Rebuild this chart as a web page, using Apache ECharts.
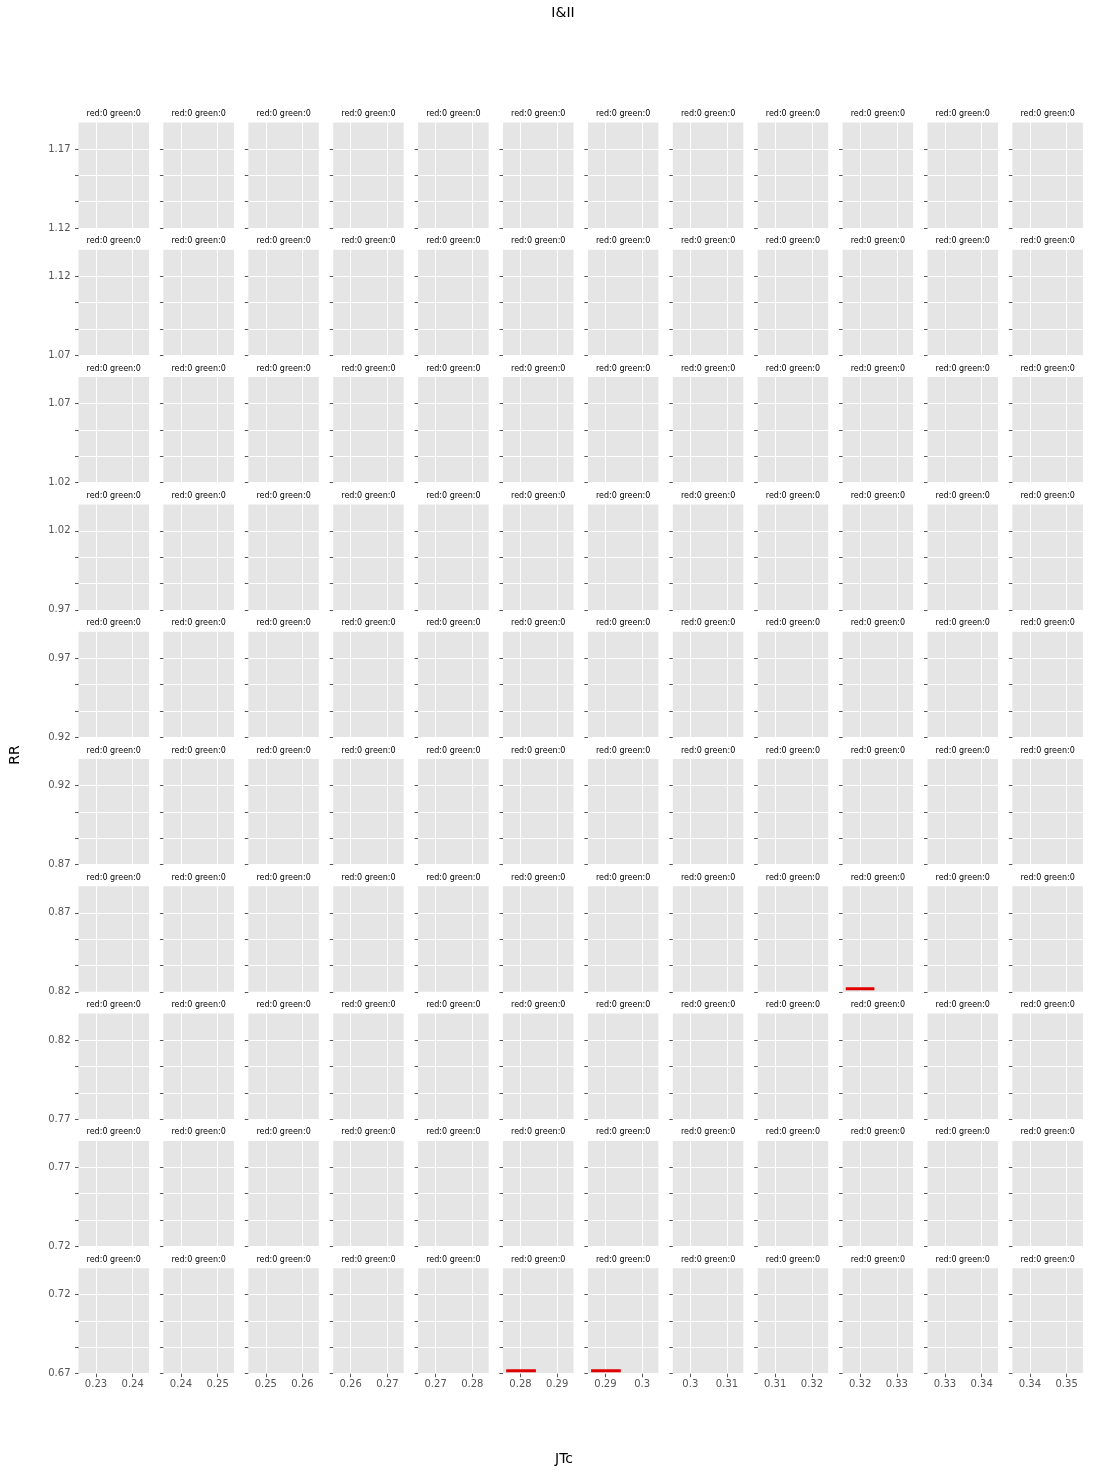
<!DOCTYPE html>
<html>
<head>
<meta charset="utf-8">
<script src="https://cdn.jsdelivr.net/npm/echarts@6/dist/echarts.min.js"></script>
<style>
  html, body { margin: 0; padding: 0; background: #fff; }
  #chart { width: 1093px; height: 1474px; }
</style>
</head>
<body>
<div id="chart"></div>
<script>
// x tick starts per column, y bottom per row
var colStarts = [0.23, 0.24, 0.25, 0.26, 0.27, 0.28, 0.29, 0.30, 0.31, 0.32, 0.33, 0.34];
var rowBottoms = [1.12, 1.07, 1.02, 0.97, 0.92, 0.87, 0.82, 0.77, 0.72, 0.67];

var redCounts = [
  [0, 0, 0, 0, 0, 0, 0, 0, 0, 0, 0, 0],
  [0, 0, 0, 0, 0, 0, 0, 0, 0, 0, 0, 0],
  [0, 0, 0, 0, 0, 0, 0, 0, 0, 0, 0, 0],
  [0, 0, 0, 0, 0, 0, 0, 0, 0, 0, 0, 0],
  [0, 0, 0, 0, 0, 0, 0, 0, 0, 0, 0, 0],
  [0, 0, 0, 0, 0, 0, 0, 0, 0, 0, 0, 0],
  [0, 0, 0, 0, 0, 0, 0, 0, 0, 0, 0, 0],
  [0, 0, 0, 0, 0, 0, 0, 0, 0, 0, 0, 0],
  [0, 0, 0, 0, 0, 0, 0, 0, 0, 0, 0, 0],
  [0, 0, 0, 0, 0, 0, 0, 0, 0, 0, 0, 0]
];
var greenCounts = [
  [0, 0, 0, 0, 0, 0, 0, 0, 0, 0, 0, 0],
  [0, 0, 0, 0, 0, 0, 0, 0, 0, 0, 0, 0],
  [0, 0, 0, 0, 0, 0, 0, 0, 0, 0, 0, 0],
  [0, 0, 0, 0, 0, 0, 0, 0, 0, 0, 0, 0],
  [0, 0, 0, 0, 0, 0, 0, 0, 0, 0, 0, 0],
  [0, 0, 0, 0, 0, 0, 0, 0, 0, 0, 0, 0],
  [0, 0, 0, 0, 0, 0, 0, 0, 0, 0, 0, 0],
  [0, 0, 0, 0, 0, 0, 0, 0, 0, 0, 0, 0],
  [0, 0, 0, 0, 0, 0, 0, 0, 0, 0, 0, 0],
  [0, 0, 0, 0, 0, 0, 0, 0, 0, 0, 0, 0]
];

// red segments: row, col, x start, x end, y
var redSegments = [
  [6, 9, 0.3161, 0.3239, 0.8219],
  [9, 5, 0.2761, 0.2842, 0.6719],
  [9, 6, 0.2861, 0.2942, 0.6719]
];

var nRows = rowBottoms.length, nCols = colStarts.length;
var yStep = 0.05, xStep = 0.01;
var left0 = 78.5, colGap = 84.9, pw = 70.5;
var top0 = 122.5, rowGap = 127.3, ph = 105.5;
var font = 'DejaVu Sans';

function fmt(v) { return String(parseFloat(v.toFixed(2))); }

var grids = [], xAxes = [], yAxes = [], titles = [], series = [];

for (var r = 0; r < nRows; r++) {
  for (var c = 0; c < nCols; c++) {
    var idx = r * nCols + c;
    var L = left0 + c * colGap, T = top0 + r * rowGap;
    var x0 = colStarts[c], b = rowBottoms[r];
    grids.push({
      left: L, top: T, width: pw, height: ph,
      show: true, backgroundColor: '#e5e5e5', borderWidth: 0,
      containLabel: false, outerBoundsMode: 'none'
    });
    xAxes.push({
      type: 'value', gridIndex: idx,
      min: x0 - 0.00477, max: x0 + 0.01444,
      axisLine: { show: false },
      axisTick: { show: r === nRows - 1, length: 3.5, lineStyle: { color: '#555' },
                  customValues: [x0, x0 + xStep] },
      axisLabel: { show: r === nRows - 1, customValues: [x0, x0 + xStep], margin: 6,
                   color: '#555', fontSize: 10, fontFamily: font,
                   formatter: function (v) { return fmt(v); } },
      splitLine: { show: true, lineStyle: { color: '#fff', width: 1 } }
    });
    yAxes.push({
      type: 'value', gridIndex: idx,
      min: b, max: b + yStep * ph / 79,
      axisLine: { show: false },
      axisTick: { show: true, length: 3.5, lineStyle: { color: '#555' },
                  customValues: [b, b + yStep / 3, b + 2 * yStep / 3, b + yStep] },
      axisLabel: { show: c === 0, customValues: [b, b + yStep], margin: 8,
                   color: '#555', fontSize: 10, fontFamily: font,
                   formatter: function (v) { return v.toFixed(2); } },
      splitLine: { show: true, lineStyle: { color: '#fff', width: 1 } }
    });
    titles.push({
      text: 'red:' + redCounts[r][c] + ' green:' + greenCounts[r][c],
      left: L + pw / 2, top: T - 12.5, textAlign: 'center', padding: 0,
      textStyle: { fontSize: 8, fontWeight: 'normal', color: '#000', fontFamily: font }
    });
  }
}

redSegments.forEach(function (s) {
  var idx = s[0] * nCols + s[1];
  series.push({
    type: 'line', xAxisIndex: idx, yAxisIndex: idx,
    data: [[s[2], s[4]], [s[3], s[4]]],
    symbol: 'none', silent: true,
    lineStyle: { color: '#e00000', width: 3 }
  });
});

titles.push({
  text: 'I&II', left: 563, top: 6, textAlign: 'center', padding: 0,
  textStyle: { fontSize: 14, fontWeight: 'normal', color: '#000', fontFamily: font }
});
titles.push({
  text: 'JTc', left: 564, top: 1452, textAlign: 'center', padding: 0,
  textStyle: { fontSize: 14, fontWeight: 'normal', color: '#000', fontFamily: font }
});

var chart = echarts.init(document.getElementById('chart'));
chart.setOption({
  animation: false,
  title: titles,
  grid: grids,
  xAxis: xAxes,
  yAxis: yAxes,
  series: series,
  graphic: [{
    type: 'text', x: 15, y: 755, rotation: Math.PI / 2,
    style: { text: 'RR', fill: '#000', fontSize: 14, fontFamily: font,
             textAlign: 'center', textVerticalAlign: 'middle' }
  }]
});
</script>
</body>
</html>
